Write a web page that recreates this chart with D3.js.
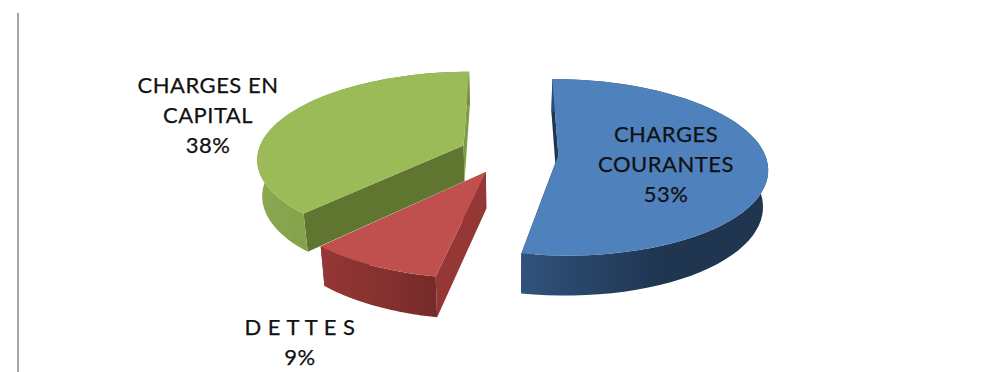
<!DOCTYPE html>
<html>
<head>
<meta charset="utf-8">
<style>
html,body{margin:0;padding:0;background:#fff;}
svg{display:block;}
text{font-family:Lato,"Open Sans",sans-serif;fill:#111;text-anchor:middle;stroke:#111;stroke-width:0.25;}
</style>
<script src="https://cdn.jsdelivr.net/npm/d3@7/dist/d3.min.js"></script>
</head>
<body>
<script>
// Budget split shown as an exploded, tilted pie
const categories = ["CHARGES COURANTES", "D E T T E S", "CHARGES EN CAPITAL"];
const shares = [53, 9, 38];
const labelLines = [["CHARGES", "COURANTES"], ["D E T T E S"], ["CHARGES EN", "CAPITAL"]];
const labelAnchors = [[666, 142], [300, 335], [208, 93]];
const topColors = ["#4f81bd", "#c0504d", "#9bbb59"];
const rimStops = [["#30527c", "#1f3550"], ["#963735", "#752b29"], ["#8aa84f", "#748f3e"]];
// Cut-face colours: [start edge, end edge] of each slice
const edgeColors = [["#1f3550", "#1f3550"], ["#953735", "#953735"], ["#5f7530", "#7f9c46"]];

const W = 982, H = 372;
const cx = 509, cy = 153, rx = 206, ry = 86, tilt = 0.14, explode = 0.24;
const depth = 36, bottomScale = 0.98;

const svg = d3.select("body").append("svg").attr("width", W).attr("height", H);
const defs = svg.append("defs");

// Perspective projection of a point on the pie's plane; level 1 is the underside
function project(X, Y, level) {
  const w = 1 + tilt * Y;
  const s = level ? bottomScale : 1;
  return [cx + X * rx * s / w, cy + (level * depth - Y * ry * s) / w];
}

const pie = d3.pie().sort(null).value(d => d)
  .startAngle(0).endAngle(2 * Math.PI);
const arcs = pie(shares);
const line = d3.line();

// Axis rule on the left of the frame
svg.append("line").attr("x1", 18).attr("x2", 18).attr("y1", 13).attr("y2", H)
  .attr("stroke", "#a6a6a6").attr("stroke-width", 2);

const drawOrder = [2, 1, 0];
drawOrder.forEach(i => {
  const a = arcs[i];
  const mid = (a.startAngle + a.endAngle) / 2;
  const ox = explode * Math.sin(mid), oy = explode * Math.cos(mid);
  const rim = level => d3.range(0, 61).map(k => {
    const t = a.startAngle + (a.endAngle - a.startAngle) * k / 60;
    return project(ox + Math.sin(t), oy + Math.cos(t), level);
  });
  const top = rim(0), bottom = rim(1);
  const apexTop = project(ox, oy, 0), apexBottom = project(ox, oy, 1);
  const g = svg.append("g");

  const gradId = "rim" + i;
  const xs = top.concat(bottom).map(p => p[0]);
  const grad = defs.append("linearGradient").attr("id", gradId)
    .attr("gradientUnits", "userSpaceOnUse")
    .attr("x1", d3.min(xs)).attr("x2", i === 0 ? d3.min(xs) + 140 : d3.max(xs))
    .attr("y1", 0).attr("y2", 0);
  grad.append("stop").attr("offset", 0).attr("stop-color", rimStops[i][0]);
  grad.append("stop").attr("offset", 1).attr("stop-color", rimStops[i][1]);

  // Cut faces along the two straight edges
  g.append("path").attr("fill", edgeColors[i][0])
    .attr("d", line([top[0], apexTop, apexBottom, bottom[0]]) + "Z");
  g.append("path").attr("fill", edgeColors[i][1])
    .attr("d", line([top[60], apexTop, apexBottom, bottom[60]]) + "Z");
  // Curved outer wall
  g.append("path").attr("fill", `url(#${gradId})`)
    .attr("d", line(top.concat(bottom.slice().reverse())) + "Z");
  // Top face
  g.append("path").attr("fill", topColors[i])
    .attr("d", line([apexTop].concat(top)) + "Z");
});

// Labels: category lines followed by the share
categories.forEach((name, i) => {
  const lines = labelLines[i].concat([shares[i] + "%"]);
  const t = svg.append("text").attr("font-size", 22).attr("letter-spacing", 0.5).attr("aria-label", name);
  lines.forEach((s, k) => {
    t.append("tspan").attr("x", labelAnchors[i][0])
      .attr("y", labelAnchors[i][1] + k * 30).text(s);
  });
});
</script>
</body>
</html>
